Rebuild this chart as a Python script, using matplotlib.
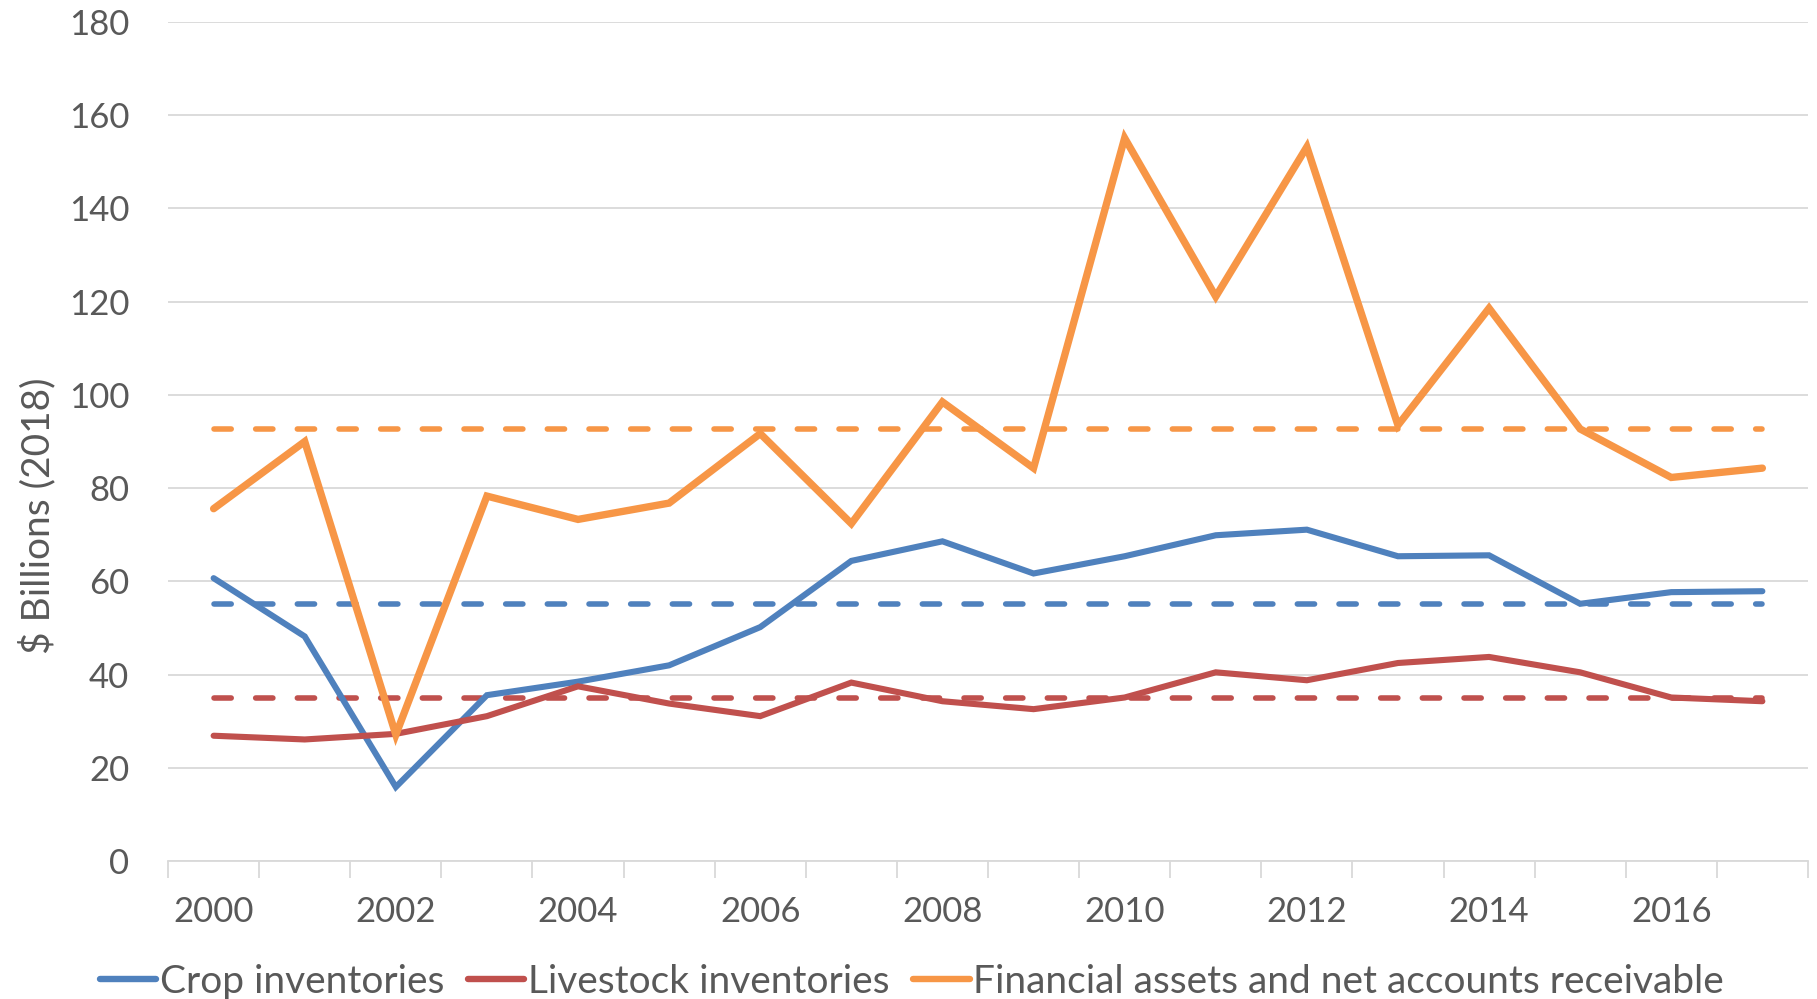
import matplotlib
matplotlib.use("Agg")
from matplotlib import pyplot as plt
import numpy as np

years = list(range(2000, 2018))
crop = [60.7, 48.2, 15.9, 35.6, 38.5, 42.0, 50.2, 64.4, 68.6, 61.7,
        65.4, 69.9, 71.1, 65.4, 65.6, 55.2, 57.7, 57.9]
livestock = [26.9, 26.1, 27.3, 31.1, 37.5, 33.8, 31.1, 38.3, 34.3, 32.6,
             35.1, 40.5, 38.8, 42.5, 43.8, 40.5, 35.1, 34.3]
financial = [75.6, 90.0, 27.1, 78.3, 73.3, 76.8, 91.7, 72.4, 98.5, 84.3,
             155.1, 121.1, 153.2, 93.5, 118.6, 92.7, 82.3, 84.3]

names = ["Crop inventories", "Livestock inventories",
         "Financial assets and net accounts receivable"]
colors = ["#4F81BD", "#C0504D", "#F79646"]
widths = [4.4, 4.4, 5.3]

plt.rcParams["font.family"] = ["Lato", "DejaVu Sans"]

fig = plt.figure(figsize=(18.17, 9.99), dpi=100)
ax = fig.add_axes([0.0925, 0.138, 0.9025, 0.84])

x = np.arange(len(years))
for vals, name, c, w in zip([crop, livestock, financial], names, colors, widths):
    ax.plot(x, vals, color=c, lw=w, label=name, solid_joinstyle="miter",
            solid_capstyle="round", zorder=3)
    # dashed line at the series average
    ax.plot(x, [np.mean(vals)] * len(x), color=c, lw=4.0,
            dashes=(3.1, 4.4), dash_capstyle="round", zorder=2)

ax.set_xlim(-0.5, len(years) - 0.5)
ax.set_ylim(0, 180)
ax.set_yticks(range(0, 181, 20))
ax.grid(axis="y", color="#D9D9D9", lw=1.3)
ax.set_axisbelow(True)

# category boundaries as major ticks, every other year labelled at center
ax.set_xticks(np.arange(-0.5, len(years), 1.0))
ax.set_xticklabels([])
ax.set_xticks(x[::2], minor=True)
ax.set_xticklabels([str(y) for y in years[::2]], minor=True)
ax.tick_params(axis="x", which="major", length=12, width=1.3, color="#D9D9D9")
ax.tick_params(axis="x", which="minor", length=0, pad=25, labelsize=25,
               labelcolor="#595959")
ax.tick_params(axis="y", length=0, pad=28, labelsize=25, labelcolor="#595959")

for s in ["top", "right", "left"]:
    ax.spines[s].set_visible(False)
ax.spines["bottom"].set_color("#D9D9D9")
ax.spines["bottom"].set_linewidth(1.3)

ax.set_ylabel("$ Billions (2018)", fontsize=28, color="#595959")
ax.yaxis.set_label_coords(-0.068, 0.411)

leg = fig.legend(loc="center", bbox_to_anchor=(0.502, 0.017), ncol=3,
                 frameon=False, fontsize=28, labelcolor="#595959",
                 handlelength=1.45, handletextpad=0.1, columnspacing=0.6)
for h in leg.legend_handles:
    h.set_linewidth(4.6)

fig.savefig("out.png", dpi=100)
